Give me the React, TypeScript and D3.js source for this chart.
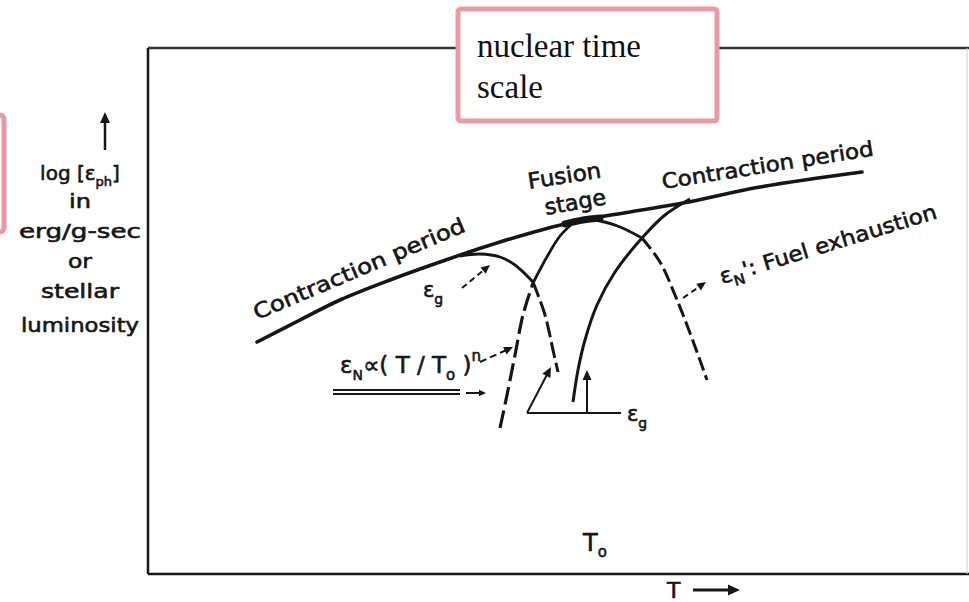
import React from "react";
import * as d3 from "d3";

// Abstract data coordinates: x = temperature T, y = log(eps)
const envelope: [number, number][] = [
  [109, 232], [152, 254], [192, 274], [242, 294], [292, 312], [352, 332],
  [425, 352], [482, 362], [535, 371], [612, 387], [714, 402],
];
const epsG1: [number, number][] = [
  [312, 318], [332, 320], [352, 317], [367, 309], [385, 292], [397, 259], [405, 224], [410, 202],
];
const epsN1: [number, number][] = [
  [352, 146], [359, 179], [367, 219], [375, 259], [385, 291], [400, 319], [412, 338], [425, 351],
];
const epsN2: [number, number][] = [
  [430, 354], [452, 353], [472, 347], [494, 336], [512, 312], [527, 279], [542, 241], [559, 194],
];
const epsG2: [number, number][] = [
  [425, 172], [430, 204], [437, 234], [449, 269], [467, 302], [494, 336], [517, 359], [542, 375],
];
const fusionMark: [number, number][] = [[417, 350], [435, 354], [452, 356]];
const yLabelLines = ["in", "erg/g-sec", "or", "stellar", "luminosity"];
const yLabelWidths = [22, 122, 24, 78, 118];

const W = 969, H = 602;
const x = d3.scaleLinear().domain([0, 820]).range([148, 968]);
const y = d3.scaleLinear().domain([0, 526]).range([574, 48]);
const line = d3.line<[number, number]>().x(d => x(d[0])).y(d => y(d[1])).curve(d3.curveCatmullRom.alpha(0.5));

const INK = "#161616";
const FONT = "'DejaVu Sans', sans-serif";
const PINK = "#e89aa6";
const TS = { fill: INK, stroke: INK, strokeWidth: 0.6 };

function Arrow({ x1, y1, x2, y2, dash, size = 8, w = 2 }: any) {
  const a = Math.atan2(y2 - y1, x2 - x1);
  const p1 = [x2 - size * Math.cos(a) + size * 0.45 * Math.sin(a), y2 - size * Math.sin(a) - size * 0.45 * Math.cos(a)];
  const p2 = [x2 - size * Math.cos(a) - size * 0.45 * Math.sin(a), y2 - size * Math.sin(a) + size * 0.45 * Math.cos(a)];
  return (
    <g>
      <line x1={x1} y1={y1} x2={x2 - (size * 0.6) * Math.cos(a)} y2={y2 - (size * 0.6) * Math.sin(a)} stroke={INK} strokeWidth={w} strokeDasharray={dash} />
      <polygon points={`${x2},${y2} ${p1[0]},${p1[1]} ${p2[0]},${p2[1]}`} fill={INK} />
    </g>
  );
}

export default function App() {
  const seg = (arr: [number, number][], a: number, b: number) => arr.slice(a, b + 1);
  return (
    <svg width={W} height={H} style={{ position: "fixed", left: 0, top: 0, background: "#fff" }} fontFamily={FONT}>
      <rect x={0} y={0} width={W} height={H} fill="#fff" />
      {/* frame */}
      <line x1={x(0)} y1={y(526)} x2={W} y2={y(526)} stroke="#333" strokeWidth={2.5} />
      <line x1={x(0)} y1={y(526)} x2={x(0)} y2={y(0)} stroke={INK} strokeWidth={2.5} />
      <line x1={x(0)} y1={y(0)} x2={W} y2={y(0)} stroke={INK} strokeWidth={2.5} />
      <line x1={x(819)} y1={y(526)} x2={x(819)} y2={y(0)} stroke="#ccc" strokeWidth={1} />

      {/* curves */}
      <path d={line(envelope) || ""} fill="none" stroke={INK} strokeWidth={3.6} strokeLinecap="round" />
      <path d={line(fusionMark) || ""} fill="none" stroke={INK} strokeWidth={7} strokeLinecap="round" />
      <path d={line(seg(epsG1, 0, 4)) || ""} fill="none" stroke={INK} strokeWidth={2.8} />
      <path d={line(seg(epsG1, 4, 7)) || ""} fill="none" stroke={INK} strokeWidth={3} strokeDasharray="16 5" />
      <path d={line(seg(epsN1, 0, 4)) || ""} fill="none" stroke={INK} strokeWidth={3.2} strokeDasharray="18 6" />
      <path d={line(seg(epsN1, 4, 7)) || ""} fill="none" stroke={INK} strokeWidth={2.8} />
      <path d={line(seg(epsN2, 0, 3)) || ""} fill="none" stroke={INK} strokeWidth={2.8} />
      <path d={line(seg(epsN2, 3, 7)) || ""} fill="none" stroke={INK} strokeWidth={3} strokeDasharray="14 5" />
      <path d={line(epsG2) || ""} fill="none" stroke={INK} strokeWidth={3} />

      {/* y axis label */}
      <Arrow x1={105} y1={150} x2={105} y2={112} size={11} w={2.5} />
      <text x={80} y={180} fontSize={20} textAnchor="middle" {...TS}>
        log [ε<tspan fontSize={13} dy={6}>ph</tspan><tspan dy={-6}>]</tspan>
      </text>
      {yLabelLines.map((t, i) => (
        <text key={t} x={80} y={208 + i * 30 + (i === 4 ? 4 : 0)} fontSize={20} textAnchor="middle"
          textLength={yLabelWidths[i]} lengthAdjust="spacingAndGlyphs" {...TS}>{t}</text>
      ))}

      {/* curve labels */}
      <text transform="translate(257,320) rotate(-23)" fontSize={21} textLength={228} lengthAdjust="spacingAndGlyphs" {...TS}>Contraction period</text>
      <text transform="translate(529,189) rotate(-9)" fontSize={22} textLength={74} lengthAdjust="spacingAndGlyphs" {...TS}>Fusion</text>
      <text transform="translate(546,215) rotate(-10)" fontSize={22} textLength={62} lengthAdjust="spacingAndGlyphs" {...TS}>stage</text>
      <text transform="translate(663,189) rotate(-9)" fontSize={21} textLength={214} lengthAdjust="spacingAndGlyphs" {...TS}>Contraction period</text>
      <text transform="translate(722,284) rotate(-17)" fontSize={21} textLength={226} lengthAdjust="spacingAndGlyphs" {...TS}>
        ε<tspan fontSize={14} dy={6}>N</tspan><tspan dy={-6}>': Fuel exhaustion</tspan>
      </text>
      <Arrow x1={683} y1={298} x2={706} y2={282} dash="6 4" size={9} />

      {/* eps_g near first curve */}
      <text x={423} y={297} fontSize={21} {...TS}>ε<tspan fontSize={14} dy={7}>g</tspan></text>
      <Arrow x1={462} y1={288} x2={490} y2={265} dash="6 4" size={9} />

      {/* eps_N proportional label */}
      <text x={340} y={373} fontSize={23} {...TS}>
        ε<tspan fontSize={14} dy={7}>N</tspan><tspan dy={-7}>∝( T / T</tspan><tspan fontSize={15} dy={7}>o</tspan><tspan dy={-7}> )</tspan><tspan fontSize={15} dy={-12}>n</tspan>
      </text>
      <Arrow x1={480} y1={362} x2={513} y2={347} dash="7 4" size={9} />
      <line x1={333} y1={390} x2={460} y2={390} stroke={INK} strokeWidth={2.2} />
      <line x1={333} y1={394} x2={460} y2={394} stroke={INK} strokeWidth={2.2} />
      <Arrow x1={466} y1={393} x2={486} y2={393} size={7} />

      {/* bottom eps_g connector */}
      <Arrow x1={527} y1={413} x2={551} y2={367} size={10} />
      <line x1={527} y1={413} x2={621} y2={413} stroke={INK} strokeWidth={2} />
      <Arrow x1={587} y1={413} x2={587} y2={370} size={10} />
      <text x={627} y={421} fontSize={21} {...TS}>ε<tspan fontSize={14} dy={7}>g</tspan></text>

      {/* x axis labels */}
      <text x={583} y={551} fontSize={24} {...TS}>T<tspan fontSize={15} dy={6}>o</tspan></text>
      <text x={667} y={598} fontSize={22} {...TS}>T</text>
      <Arrow x1={693} y1={590} x2={740} y2={590} size={12} w={3} />

      {/* pink annotation boxes */}
      <rect x={-20} y={115} width={24} height={117} rx={4} fill="#fff" stroke={PINK} strokeWidth={5} />
      <rect x={458} y={9} width={259} height={112} rx={3} fill="#fff" stroke={PINK} strokeWidth={5} />
      <text x={477} y={57} fontSize={33} fontFamily="'Liberation Serif', serif" fill="#111">nuclear time</text>
      <text x={477} y={98} fontSize={33} fontFamily="'Liberation Serif', serif" fill="#111">scale</text>
    </svg>
  );
}
